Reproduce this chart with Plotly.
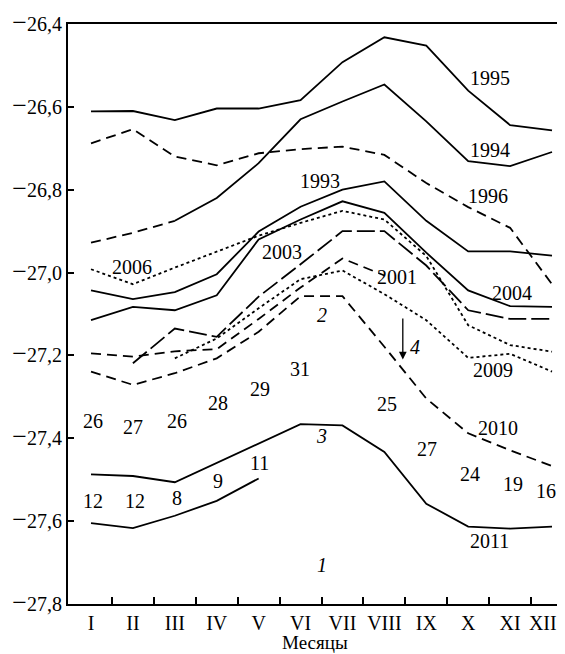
import plotly.graph_objects as go

months = list(range(1, 13))
month_labels = ["I", "II", "III", "IV", "V", "VI", "VII", "VIII", "IX", "X", "XI", "XII"]
month_label_pos = [1, 2, 3, 4, 5, 6, 7, 8, 9, 10, 11, 11.78]

y1995 = [-26.611, -26.610, -26.632, -26.604, -26.604, -26.584, -26.492, -26.432, -26.452, -26.561, -26.644, -26.657]
y1994 = [-26.928, -26.904, -26.875, -26.820, -26.736, -26.630, -26.587, -26.546, -26.635, -26.731, -26.743, -26.709]
y1996 = [-26.688, -26.654, -26.720, -26.741, -26.712, -26.702, -26.696, -26.716, -26.784, -26.842, -26.892, -27.028]
y1993 = [-27.043, -27.064, -27.047, -27.004, -26.901, -26.841, -26.800, -26.780, -26.875, -26.949, -26.949, -26.959]
y2004 = [-27.115, -27.083, -27.091, -27.055, -26.920, -26.872, -26.828, -26.856, -26.952, -27.043, -27.081, -27.083]
y2006 = [-26.992, -27.028, -26.988, -26.949, -26.911, -26.880, -26.851, -26.872, -26.960, -27.127, -27.175, -27.191]
y2003 = [None, -27.219, -27.135, -27.155, -27.058, -26.980, -26.900, -26.900, -26.983, -27.091, -27.112, -27.112]
y2001 = [-27.195, -27.203, -27.190, -27.185, -27.112, -27.036, -26.966, -27.007, None, None, None, None]
y2009 = [None, None, -27.207, -27.159, -27.086, -27.016, -26.995, -27.052, -27.115, -27.206, -27.196, -27.239]
y2010 = [-27.239, -27.271, -27.243, -27.207, -27.143, -27.057, -27.057, -27.179, -27.304, -27.388, -27.429, -27.467]
y2011 = [-27.487, -27.491, -27.506, -27.459, -27.412, -27.366, -27.369, -27.433, -27.558, -27.613, -27.618, -27.613]
y_low = [-27.605, -27.617, -27.587, -27.551, -27.497, None, None, None, None, None, None, None]

counts_upper = ["26", "27", "26", "28", "29", "31", "25", "27", "24", "19", "16"]
counts_upper_pos = [(1.05, -27.359), (2.00, -27.373), (3.05, -27.359), (4.03, -27.316), (5.03, -27.282),
                    (5.99, -27.232), (8.06, -27.318), (9.02, -27.426), (10.04, -27.486), (11.07, -27.510),
                    (11.85, -27.527)]
counts_lower = ["12", "12", "8", "9", "11"]
counts_lower_pos = [(1.05, -27.551), (2.05, -27.551), (3.05, -27.544), (4.03, -27.503), (5.03, -27.460)]

year_labels = ["1995", "1994", "1996", "1993", "2006", "2003", "2001", "2004", "2009", "2010", "2011"]
year_pos = [(10.52, -26.530), (10.52, -26.704), (10.47, -26.815), (6.46, -26.779), (1.98, -26.987),
            (5.56, -26.951), (8.30, -27.011), (11.05, -27.050), (10.59, -27.234), (10.71, -27.376),
            (10.52, -27.647)]
curve_labels = ["2", "3", "4", "1"]
curve_pos = [(6.51, -27.102), (6.51, -27.395), (8.73, -27.179), (6.51, -27.707)]

y_ticks = [-27.8, -27.6, -27.4, -27.2, -27.0, -26.8, -26.6, -26.4]
y_ticktext = ["27,8", "27,6", "27,4", "27,2", "27,0", "26,8", "26,6", "26,4"]
MINUS = "<span style='font-size:26px'>\u2212</span>"

FONT = "Liberation Serif"
W = 1.8
DASH = "10px,6px"
LONGDASH = "18px,5px"

fig = go.Figure()

def add(y, dash="solid", x=None):
    fig.add_trace(go.Scatter(x=x if x is not None else months, y=y, mode="lines",
                             line=dict(color="black", width=W, dash=dash),
                             connectgaps=False, showlegend=False, hoverinfo="skip"))

add(y1995)
add(y1994[:3], DASH, months[:3])
add(y1994[2:], "solid", months[2:])
add(y1996, DASH)
add(y1993)
add(y2004)
add(y2006, "dot")
add(y2003, LONGDASH)
add(y2001, DASH)
add(y2009, "dot")
add(y2010, DASH)
add(y2011)
add(y_low)

ann = []
for t, (x, y) in zip(counts_upper + counts_lower, counts_upper_pos + counts_lower_pos):
    ann.append(dict(x=x, y=y, text=t, showarrow=False, font=dict(family=FONT, size=20, color="black")))
for t, (x, y) in zip(year_labels, year_pos):
    ann.append(dict(x=x, y=y, text=t, showarrow=False, font=dict(family=FONT, size=20, color="black")))
for t, (x, y) in zip(curve_labels, curve_pos):
    ann.append(dict(x=x, y=y, text="<i>" + t + "</i>", showarrow=False,
                    font=dict(family=FONT, size=20, color="black")))
# arrow 4
ann.append(dict(x=8.44, y=-27.210, ax=8.44, ay=-27.107, axref="x", ayref="y", xref="x", yref="y",
                text="", showarrow=True, arrowhead=2, arrowsize=1.2, arrowwidth=1.3, arrowcolor="black"))
# axis title
ann.append(dict(x=6.34, y=-0.066, xref="x", yref="paper", text="Месяцы", showarrow=False,
                yanchor="middle", font=dict(family=FONT, size=19, color="black")))

# page body has an 8px margin, so the figure is sized to end at the window edge
fig.update_layout(
    width=557, height=646,
    margin=dict(l=60, r=0, t=12, b=50),
    paper_bgcolor="white", plot_bgcolor="white",
    font=dict(family=FONT, size=20, color="black"),
    annotations=ann,
    xaxis=dict(range=[0.451, 12.31], tickmode="array", tickvals=month_label_pos, ticktext=month_labels,
               ticks="", showgrid=False, zeroline=False, showline=True, linecolor="black",
               linewidth=2, mirror=True, ticklabeloverflow="allow",
               minor=dict(tickmode="array", tickvals=[m + 0.5 for m in months[:-1]],
                          ticks="inside", ticklen=7, tickwidth=1.5, tickcolor="black", showgrid=False),
               tickfont=dict(family=FONT, size=20)),
    yaxis=dict(range=[-27.8, -26.4], tickmode="array", tickvals=y_ticks,
               ticktext=[MINUS + t for t in y_ticktext], ticklabeloverflow="allow",
               ticks="inside", ticklen=6, tickwidth=1.5, tickcolor="black", showgrid=False,
               zeroline=False, showline=True, linecolor="black", linewidth=2,
               tickfont=dict(family=FONT, size=20)),
)

fig.write_html("out.html")
